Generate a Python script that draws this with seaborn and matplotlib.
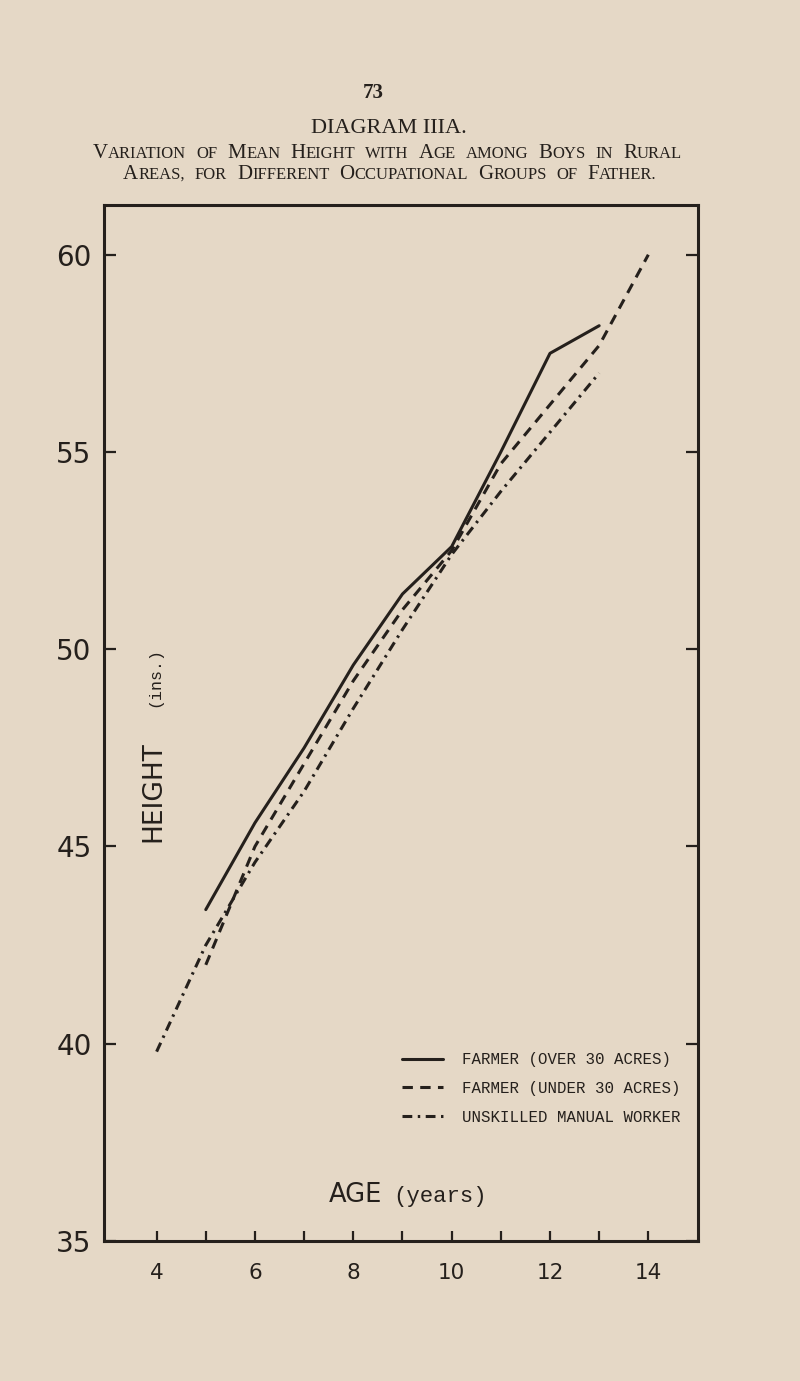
import numpy as np
import pandas as pd
import seaborn as sns
import matplotlib.pyplot as plt

# mean height (ins.), by age (years)
ages_over30 = [5, 6, 7, 8, 9, 10, 11, 12, 13]
height_over30 = [43.4, 45.6, 47.5, 49.6, 51.4, 52.6, 55.0, 57.5, 58.2]
ages_under30 = [5, 6, 7, 8, 9, 10, 11, 12, 13, 14]
height_under30 = [42.0, 45.0, 47.1, 49.2, 51.0, 52.5, 54.7, 56.2, 57.7, 60.0]
ages_unskilled = [4, 5, 6, 7, 8, 9, 10, 11, 12, 13]
height_unskilled = [39.8, 42.5, 44.6, 46.4, 48.5, 50.5, 52.4, 54.0, 55.5, 57.0]

groups = ['FARMER (OVER 30 ACRES)', 'FARMER (UNDER 30 ACRES)', 'UNSKILLED MANUAL WORKER']
x_ticks = [4, 6, 8, 10, 12, 14]
x_minor = [5, 7, 9, 11, 13]
y_ticks = [35, 40, 45, 50, 55, 60]

df = pd.concat([
    pd.DataFrame({'age': ages_over30, 'height': height_over30, 'group': groups[0]}),
    pd.DataFrame({'age': ages_under30, 'height': height_under30, 'group': groups[1]}),
    pd.DataFrame({'age': ages_unskilled, 'height': height_unskilled, 'group': groups[2]}),
])

paper = '#e5d8c6'
ink = '#25201c'

sns.set_style('ticks')
plt.rcParams['font.family'] = ['DejaVu Sans']
plt.rcParams['text.color'] = ink

W, H = 800, 1381
fig = plt.figure(figsize=(8, 13.81), dpi=100, facecolor=paper)
ax = fig.add_axes([104 / W, 1 - 1241 / H, (697.5 - 104) / W, (1241 - 205) / H])
ax.set_facecolor(paper)

sns.lineplot(data=df, x='age', y='height', style='group', style_order=groups,
             dashes={groups[0]: '', groups[1]: (3.4, 2.4), groups[2]: (3.2, 1.8, 0.8, 1.8)},
             color=ink, linewidth=2.2, errorbar=None, ax=ax)

ax.set_xlim(2.93, 15.0)
ax.set_ylim(35, 61.26)
ax.set_xticks(x_ticks)
ax.set_xticks(x_minor, minor=True)
ax.set_yticks(y_ticks)
ax.set_xlabel('')
ax.set_ylabel('')
for s in ax.spines.values():
    s.set_linewidth(2.2)
    s.set_color(ink)
ax.tick_params(axis='x', which='both', direction='in', length=7, width=1.6,
               colors=ink, labelsize=15.5, pad=16)
ax.tick_params(axis='y', direction='in', length=8.5, width=1.6, colors=ink,
               labelsize=20, pad=9, right=True)

# legend, frameless, typewriter text
handles, labels = ax.get_legend_handles_labels()
keep = [i for i, l in enumerate(labels) if l in groups]
ax.legend([handles[i] for i in keep], [labels[i] for i in keep],
          loc='upper left', bbox_to_anchor=(402 / W, 1 - 1052 / H),
          bbox_transform=fig.transFigure, frameon=False, borderpad=0,
          borderaxespad=0, handlelength=2.6, handletextpad=1.2, labelspacing=0.88,
          prop={'family': 'Liberation Mono', 'size': 11.3})

# axis captions written inside the frame
fig.text(153 / W, 1 - 792 / H, 'HEIGHT', rotation=90, ha='center', va='center',
         fontsize=19, color=ink)
fig.text(155 / W, 1 - 677 / H, '(ins.)', rotation=90, ha='center', va='center',
         fontsize=12, family='Liberation Mono', color=ink)
fig.text(355 / W, 1 - 1202 / H, 'AGE', ha='center', va='baseline', fontsize=18.5, color=ink)
fig.text(440 / W, 1 - 1202 / H, '(years)', ha='center', va='baseline', fontsize=16,
         family='Liberation Mono', color=ink)

# page heading
fig.text(373 / W, 1 - 98 / H, '73', ha='center', va='baseline', fontsize=15,
         family='Liberation Serif', weight='bold', color=ink)
fig.text(389 / W, 1 - 133 / H, 'DIAGRAM IIIA.', ha='center', va='baseline', fontsize=16,
         family='Liberation Serif', color=ink)

renderer = fig.canvas.get_renderer()


def small_caps(text, cx, base, big=15, small=12, gap=10):
    words = []
    for word in text.split(' '):
        segs = []
        if word[0].isupper():
            segs.append((word[0], big))
            rest = word[1:]
        else:
            rest = word
        if rest:
            segs.append((rest.upper(), small))
        words.append(segs)
    objs = []
    total = 0
    for segs in words:
        for s, size in segs:
            t = fig.text(0, 1 - base / H, s, fontsize=size, family='Liberation Serif',
                         va='baseline', ha='left', color=ink)
            w = t.get_window_extent(renderer).width
            objs.append((t, w))
            total += w
    total += gap * (len(words) - 1)
    x = cx - total / 2
    k = 0
    for segs in words:
        for _ in segs:
            t, w = objs[k]
            t.set_x(x / W)
            x += w
            k += 1
        x += gap


small_caps('Variation of Mean Height with Age among Boys in Rural', 387.5, 158)
small_caps('Areas, for Different Occupational Groups of Father.', 390, 179)

fig.savefig('out.png', dpi=100, facecolor=paper)
